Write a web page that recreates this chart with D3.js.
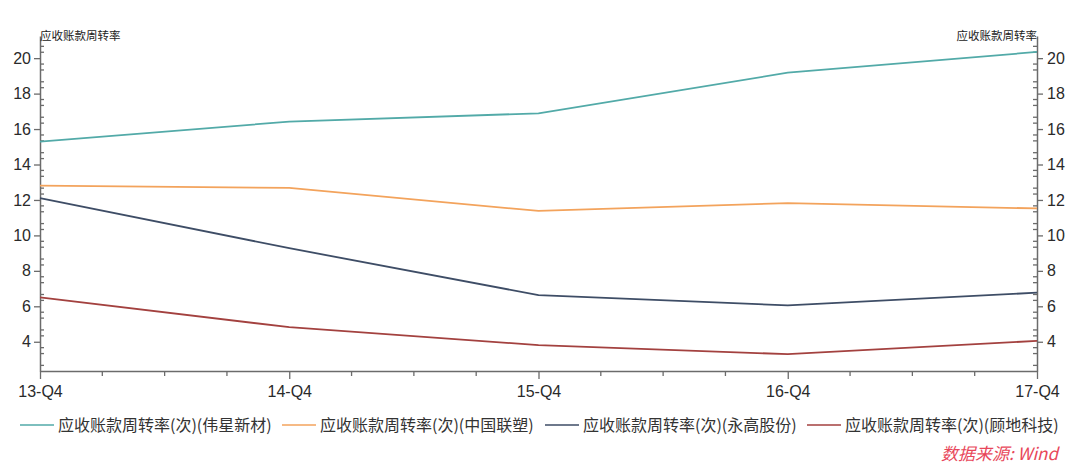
<!DOCTYPE html>
<html><head><meta charset="utf-8">
<script src="https://cdn.jsdelivr.net/npm/d3@7"></script>
<style>
html,body{margin:0;padding:0;background:#fff;}
svg{display:block;}
</style></head>
<body>
<svg id="c" width="1080" height="465"></svg>
<script>
const categories = ["13-Q4","14-Q4","15-Q4","16-Q4","17-Q4"];
const seriesNames = ["应收账款周转率(次)(伟星新材)","应收账款周转率(次)(中国联塑)","应收账款周转率(次)(永高股份)","应收账款周转率(次)(顾地科技)"];
const weixing = [15.29, 16.42, 16.89, 19.18, 20.35];
const liansu = [12.81, 12.68, 11.38, 11.82, 11.52];
const yonggao = [12.1, 9.28, 6.63, 6.05, 6.77];
const gudi = [6.5, 4.82, 3.81, 3.3, 4.05];
const yTicks = [4, 6, 8, 10, 12, 14, 16, 18, 20];
const axisTitle = "应收账款周转率";
const sourceText = "数据来源:  Wind";
const colors = ["#52aaa8", "#f3a35c", "#3e4d66", "#a3413f"];

(function(){
const seriesValues = [weixing, liansu, yonggao, gudi];
const svg = d3.select("#c");
const pLeft = 40, pRight = 1037, pTop = 36, pBottom = 371;

const x = d3.scalePoint().domain(categories).range([pLeft, pRight]);
const y = d3.scaleLinear().domain([2.35, 21.25]).range([pBottom, pTop]);
const font = "'Liberation Sans', Arial, sans-serif";
const cjk = "'Noto Sans CJK SC', 'Noto Sans', sans-serif";
const axisColor = "#6b6b6b";

const minorY = [];
for (let k = 8; k <= 63; k++) {
  const v = k * 2 / 6;
  if (k % 3 !== 0 && v > 2.35 && v < 21.25) minorY.push(v);
}

function styleAxis(g) {
  g.selectAll("path.domain").attr("stroke", axisColor).attr("stroke-width", 1.5);
  g.selectAll(".tick line").attr("stroke", axisColor).attr("stroke-width", 1.3);
  g.selectAll(".tick text").attr("fill", "#2a2a2a").style("font-family", font).style("font-size", "16px");
}

const gl = svg.append("g").attr("transform", `translate(${pLeft},0)`)
  .call(d3.axisLeft(y).tickValues(yTicks).tickSize(6).tickSizeOuter(0).tickPadding(3));
styleAxis(gl);
svg.append("g").attr("transform", `translate(${pLeft},0)`)
  .selectAll("line").data(minorY).join("line")
  .attr("x1", 0).attr("x2", 4).attr("y1", d => y(d)).attr("y2", d => y(d))
  .attr("stroke", axisColor).attr("stroke-width", 1.3);

const gr = svg.append("g").attr("transform", `translate(${pRight},0)`)
  .call(d3.axisRight(y).tickValues(yTicks).tickSize(6).tickSizeOuter(0).tickPadding(4));
styleAxis(gr);
svg.append("g").attr("transform", `translate(${pRight},0)`)
  .selectAll("line").data(minorY).join("line")
  .attr("x1", 0).attr("x2", -4).attr("y1", d => y(d)).attr("y2", d => y(d))
  .attr("stroke", axisColor).attr("stroke-width", 1.3);

const gb = svg.append("g").attr("transform", `translate(0,${pBottom})`)
  .call(d3.axisBottom(x).tickSize(8).tickSizeOuter(0).tickPadding(7));
styleAxis(gb);
const step = x.step();
const minorX = [];
categories.slice(0, -1).forEach(c => { for (let q = 1; q < 4; q++) minorX.push(x(c) + step * q / 4); });
svg.append("g").attr("transform", `translate(0,${pBottom})`)
  .selectAll("line").data(minorX).join("line")
  .attr("x1", d => d).attr("x2", d => d).attr("y1", 0).attr("y2", 5)
  .attr("stroke", axisColor).attr("stroke-width", 1.3);

svg.append("text").attr("x", pLeft).attr("y", 40).text(axisTitle)
  .style("font-family", cjk).style("font-size", "11.5px").attr("fill", "#222");
svg.append("text").attr("x", pRight).attr("y", 40).attr("text-anchor", "end").text(axisTitle)
  .style("font-family", cjk).style("font-size", "11.5px").attr("fill", "#222");

const line = d3.line().x((d, i) => x(categories[i])).y(d => y(d));
svg.append("g").selectAll("path").data(seriesValues).join("path")
  .attr("d", d => line(d)).attr("fill", "none")
  .attr("stroke", (d, i) => colors[i]).attr("stroke-width", 1.8);

const legendY = 425;
const legendStarts = [20, 282, 545, 807];
const lg = svg.append("g");
seriesNames.forEach((n, i) => {
  const x0 = legendStarts[i];
  lg.append("line").attr("x1", x0).attr("x2", x0 + 34).attr("y1", legendY).attr("y2", legendY)
    .attr("stroke", colors[i]).attr("stroke-width", 1.6);
  lg.append("text").attr("x", x0 + 38).attr("y", legendY + 6).text(n)
    .style("font-family", cjk).style("font-size", "16px").attr("fill", "#333");
});

svg.append("text").attr("x", 1058).attr("y", 460).attr("text-anchor", "end").text(sourceText)
  .style("font-family", cjk).style("font-size", "17px").style("font-style", "italic")
  .attr("fill", "#e8475a");
})();
</script>
</body></html>
